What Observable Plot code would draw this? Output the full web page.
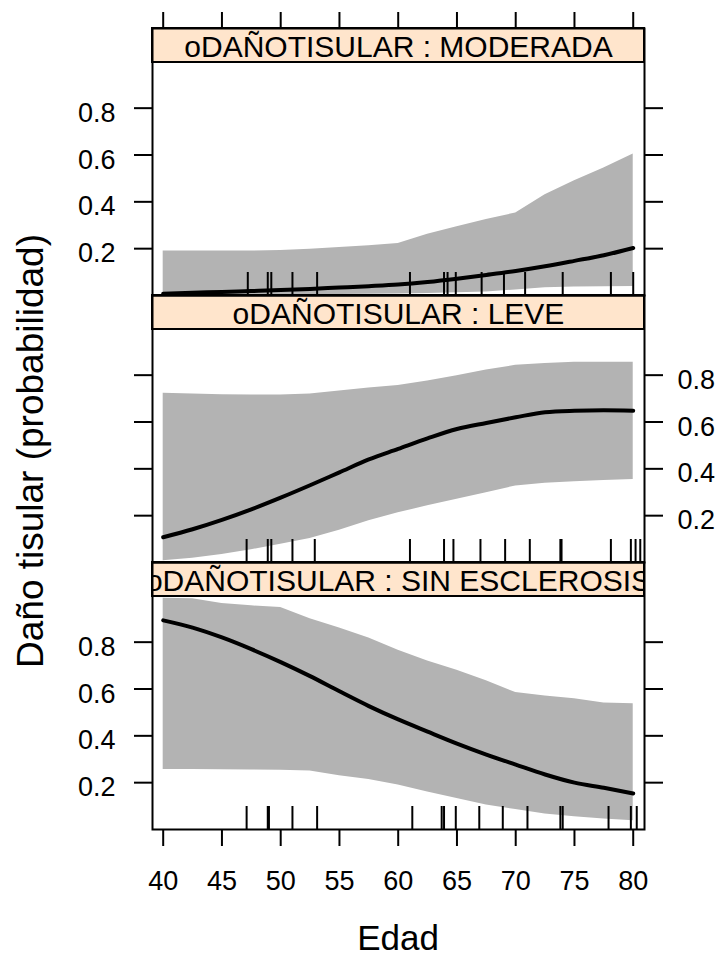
<!DOCTYPE html>
<html>
<head>
<meta charset="utf-8">
<script src="https://cdn.jsdelivr.net/npm/d3@7"></script>
<script src="https://cdn.jsdelivr.net/npm/@observablehq/plot@0.6"></script>
<style>
  html, body { margin: 0; padding: 0; background: #ffffff; }
  #chart svg { display: block; }
</style>
</head>
<body>
<div id="chart"></div>
<script>
// ---------------- data ----------------
const panels = ["MODERADA", "LEVE", "SIN ESCLEROSIS"];
const stripPrefix = "oDAÑOTISULAR : ";
const yTitle = "Daño tisular (probabilidad)";
const xTitle = "Edad";

const edad = [40, 42.5, 45, 47.5, 50, 52.5, 55, 57.5, 60, 62.5, 65, 67.5, 70, 72.5, 75, 77.5, 80];

const fitModerada   = [0.008, 0.012, 0.015, 0.019, 0.023, 0.028, 0.034, 0.040, 0.047, 0.058, 0.072, 0.088, 0.105, 0.125, 0.148, 0.172, 0.203];
const lowerModerada = [0.003, 0.003, 0.003, 0.003, 0.003, 0.003, 0.004, 0.005, 0.006, 0.009, 0.012, 0.015, 0.024, 0.033, 0.036, 0.037, 0.038];
const upperModerada = [0.190, 0.190, 0.190, 0.190, 0.192, 0.198, 0.205, 0.212, 0.222, 0.262, 0.294, 0.325, 0.352, 0.430, 0.490, 0.545, 0.604];

const fitLeve   = [0.108, 0.142, 0.182, 0.227, 0.277, 0.330, 0.385, 0.440, 0.485, 0.530, 0.570, 0.596, 0.620, 0.642, 0.648, 0.650, 0.648];
const lowerLeve = [0.008, 0.018, 0.034, 0.054, 0.078, 0.102, 0.138, 0.178, 0.212, 0.242, 0.270, 0.298, 0.327, 0.338, 0.345, 0.350, 0.354];
const upperLeve = [0.723, 0.720, 0.716, 0.715, 0.715, 0.720, 0.732, 0.745, 0.756, 0.775, 0.798, 0.822, 0.842, 0.850, 0.855, 0.855, 0.855];

const fitSin   = [0.893, 0.862, 0.820, 0.770, 0.715, 0.655, 0.590, 0.527, 0.470, 0.418, 0.367, 0.320, 0.277, 0.235, 0.200, 0.178, 0.154];
const lowerSin = [0.256, 0.256, 0.255, 0.254, 0.253, 0.250, 0.230, 0.213, 0.190, 0.160, 0.132, 0.105, 0.085, 0.066, 0.054, 0.045, 0.037];
const upperSin = [0.988, 0.985, 0.965, 0.955, 0.948, 0.900, 0.860, 0.818, 0.765, 0.720, 0.680, 0.635, 0.585, 0.570, 0.558, 0.540, 0.537];

// observed ages (rug), per panel
const rugModerada = [47.2, 48.9, 49.2, 51.0, 53.1, 61.0, 63.9, 64.2, 64.9, 67.1, 69.0, 70.8, 74.0, 78.1, 80.0];
const rugLeve     = [47.1, 48.9, 49.2, 51.0, 52.9, 61.0, 63.9, 64.7, 67.0, 69.1, 71.2, 73.8, 73.9, 78.1, 79.8, 80.2, 80.6];
const rugSin      = [47.1, 48.9, 49.0, 51.0, 53.1, 61.2, 63.7, 63.9, 64.9, 66.9, 68.9, 71.0, 73.8, 74.0, 77.9, 79.8, 80.3];

const xTicks = [40, 45, 50, 55, 60, 65, 70, 75, 80];
const yTicks = [0.2, 0.4, 0.6, 0.8];
const labelSide = ["left", "right", "left"];

// ---------------- tables ----------------
const fits = [fitModerada, fitLeve, fitSin];
const lowers = [lowerModerada, lowerLeve, lowerSin];
const uppers = [upperModerada, upperLeve, upperSin];
const rugs = [rugModerada, rugLeve, rugSin];

const rows = panels.flatMap((p, i) => edad.map((e, j) => ({panel: p, edad: e, fit: fits[i][j], lo: lowers[i][j], hi: uppers[i][j]})));
const rugRows = panels.flatMap((p, i) => rugs[i].map(e => ({panel: p, edad: e})));

// ---------------- layout ----------------
const W = 722, H = 961;
const mTop = 28, mBottom = 132, mLeft = 152, mRight = 78;
const stripH = 34;
const facetH = (H - mTop - mBottom) / panels.length;
const font = "'Liberation Sans', Arial, Helvetica, sans-serif";

const yLabelAxes = panels.map((p, i) => Plot.axisY(yTicks, {
  fy: yTicks.map(() => p),
  anchor: labelSide[i],
  tickSize: 18,
  tickPadding: labelSide[i] === "left" ? 19 : 15,
  stroke: "none",
  fill: "black",
  fontSize: 27,
  dy: 5,
  label: null
}));

const chart = Plot.plot({
  width: W,
  height: H,
  marginTop: mTop,
  marginBottom: mBottom,
  marginLeft: mLeft,
  marginRight: mRight,
  style: {fontFamily: font, color: "black", background: "white"},
  x: {domain: [39.09, 80.96], axis: null},
  y: {domain: [0, 0.995], insetTop: stripH, axis: null},
  fy: {domain: panels, padding: 0, axis: null},
  marks: [
    Plot.areaY(rows, {fy: "panel", x: "edad", y1: "lo", y2: "hi", fill: "#b3b3b3"}),
    Plot.lineY(rows, {fy: "panel", x: "edad", y: "fit", stroke: "black", strokeWidth: 4, curve: "monotone-x"}),
    Plot.ruleX(rugRows, {fy: "panel", x: "edad", insetTop: facetH - 23, stroke: "black", strokeWidth: 2}),
    Plot.rect(panels, {fy: d => d, fill: "#ffe5cc", stroke: "black", strokeWidth: 2, insetBottom: facetH - stripH}),
    Plot.text(panels, {fy: d => d, text: d => stripPrefix + d, frameAnchor: "top", lineAnchor: "middle", dy: 19, fontSize: 30, fill: "black", clip: true}),
    Plot.frame({stroke: "black", strokeWidth: 2}),
    // y ticks on both sides of every panel
    Plot.axisY(yTicks, {anchor: "left", tickSize: 18, strokeWidth: 2, stroke: "black", fill: "none", label: null}),
    Plot.axisY(yTicks, {anchor: "right", tickSize: 18, strokeWidth: 2, stroke: "black", fill: "none", label: null}),
    // alternating y labels
    ...yLabelAxes,
    // x axis: bottom with labels, top ticks only
    Plot.axisX(xTicks, {anchor: "bottom", tickSize: 17, tickPadding: 24, strokeWidth: 2, stroke: "black", fill: "black", fontSize: 27, label: null}),
    Plot.axisX(xTicks, {anchor: "top", tickSize: 17, strokeWidth: 2, stroke: "black", fill: "none", label: null})
  ]
});

document.getElementById("chart").appendChild(chart);

// axis titles
const svg = d3.select(chart);
svg.append("text")
  .attr("x", (mLeft + (W - mRight)) / 2)
  .attr("y", 950)
  .attr("text-anchor", "middle")
  .attr("font-family", font)
  .attr("font-size", 35)
  .attr("fill", "black")
  .text(xTitle);
svg.append("text")
  .attr("transform", "translate(43,451) rotate(-90)")
  .attr("text-anchor", "middle")
  .attr("font-family", font)
  .attr("font-size", 37)
  .attr("fill", "black")
  .text(yTitle);
</script>
</body>
</html>
